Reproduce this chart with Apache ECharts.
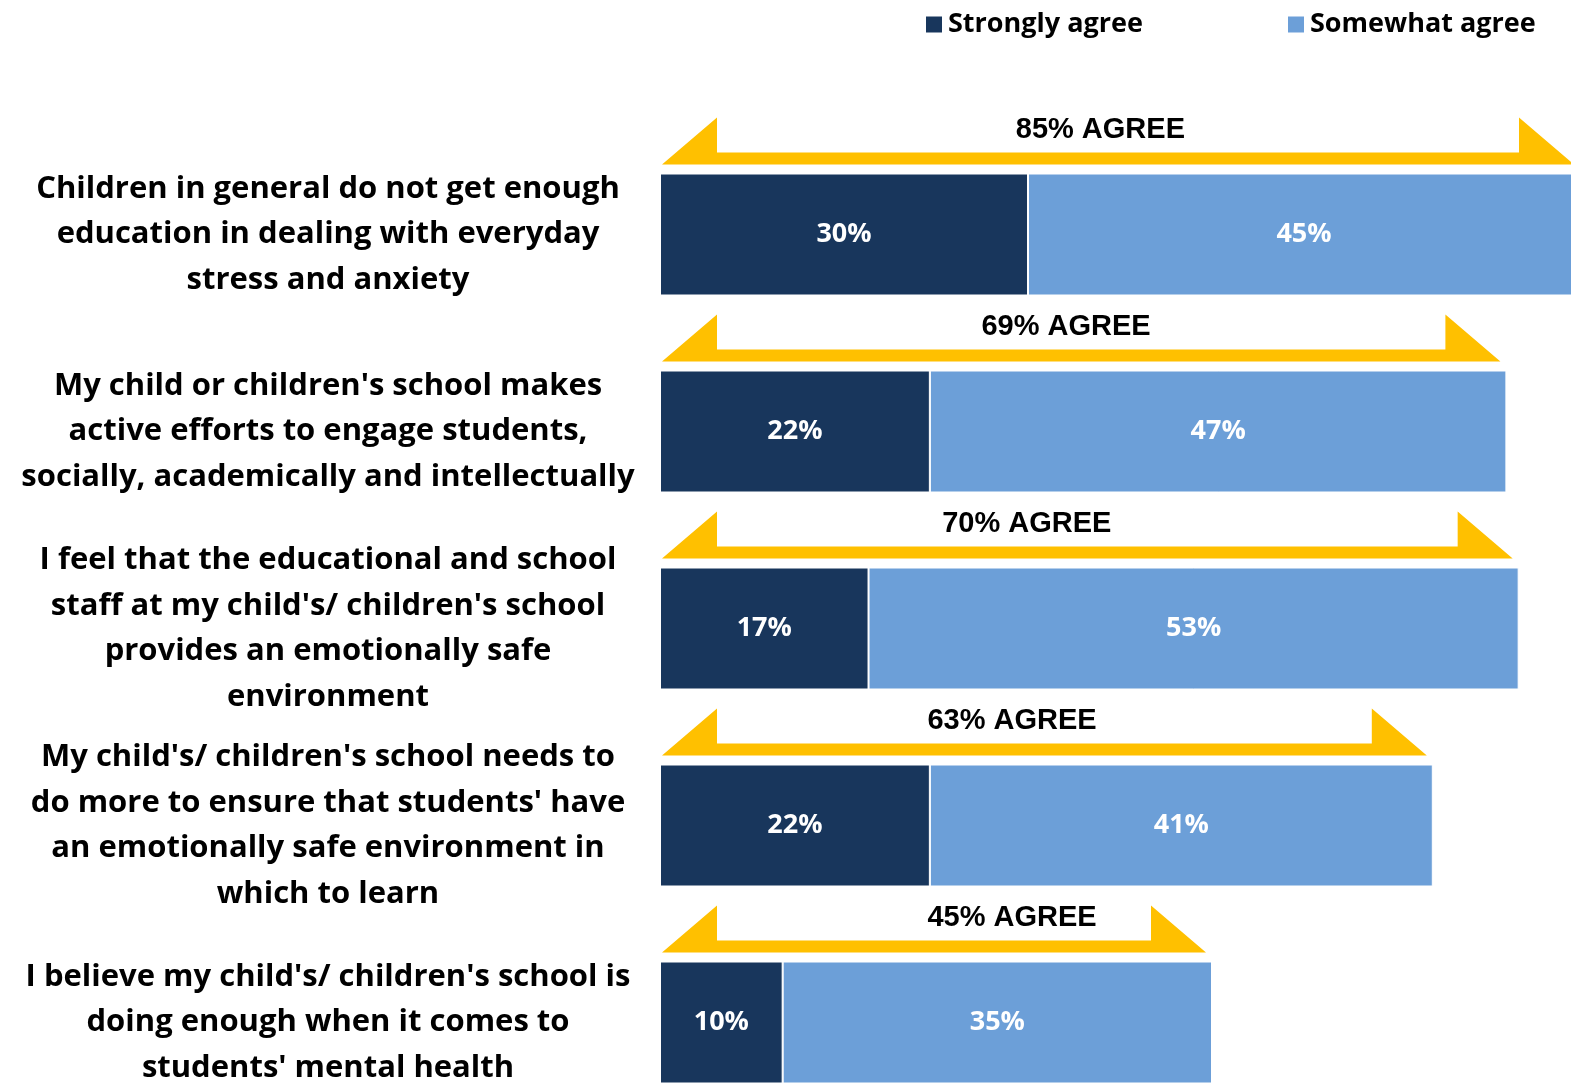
<!DOCTYPE html>
<html>
<head>
<meta charset="utf-8">
<script src="https://cdn.jsdelivr.net/npm/echarts@6/dist/echarts.min.js"></script>
<style>
  html, body { margin: 0; padding: 0; background: #ffffff; overflow: hidden; }
  /* the plot runs past the right and bottom edges of the page */
  #chart { width: 1640px; height: 1140px; }
</style>
</head>
<body>
<div id="chart"></div>
<script>
// Survey statements (top to bottom)
const categories = [
  "Children in general do not get enough\neducation in dealing with everyday\nstress and anxiety",
  "My child or children's school makes\nactive efforts to engage students,\nsocially, academically and intellectually",
  "I feel that the educational and school\nstaff at my child's/ children's school\nprovides an emotionally safe\nenvironment",
  "My child's/ children's school needs to\ndo more to ensure that students' have\nan emotionally safe environment in\nwhich to learn",
  "I believe my child's/ children's school is\ndoing enough when it comes to\nstudents' mental health"
];
const stronglyAgree = [30, 22, 17, 22, 10];
const somewhatAgree = [45, 47, 53, 41, 35];
const netAgree = [85, 69, 70, 63, 45];

// where each arrow caption is centred, in axis units
const captionAt = [35.9, 33.1, 29.9, 28.7, 28.7];

const DARK = '#18365C';
const LIGHT = '#6C9FD8';
const GOLD = '#FFC000';
const FONT = '"Open Sans", Lato, sans-serif';
const BAR_W = 122;

const chart = echarts.init(document.getElementById('chart'), null, { renderer: 'canvas' });

const arrowData = categories.map((c, i) => [
  stronglyAgree[i] + somewhatAgree[i], i, netAgree[i], captionAt[i]
]);

function renderArrow(params, api) {
  const total = api.value(0);
  const idx = api.value(1);
  const net = api.value(2);
  const capX = api.value(3);
  const start = api.coord([0, idx]);
  const end = api.coord([total, idx]);
  const yb = start[1] - 61 - 9;   // arrow baseline just above the bar
  const x0 = start[0] + 2;
  const x1 = end[0] - 6;
  const wing = 55, tall = 47, band = 12;
  const pts = [
    [x0, yb],
    [x0 + wing, yb - tall],
    [x0 + wing, yb - band],
    [x1 - wing, yb - band],
    [x1 - wing, yb - tall],
    [x1, yb]
  ];
  return {
    type: 'group',
    children: [
      { type: 'polygon', shape: { points: pts }, style: { fill: GOLD } },
      {
        type: 'text',
        x: api.coord([capX, idx])[0],
        y: start[1] - 105,
        style: {
          text: net + '% AGREE',
          fill: '#000',
          font: 'bold 29px "Liberation Sans", Arial, sans-serif',
          align: 'center',
          verticalAlign: 'middle'
        }
      }
    ]
  };
}

const legendText = { fontFamily: FONT, fontWeight: 'bold', fontSize: 27, color: '#000' };

chart.setOption({
  animation: false,
  backgroundColor: '#ffffff',
  legend: [
    {
      data: ['Strongly agree'], left: 919, top: 6, icon: 'rect',
      itemWidth: 18, itemHeight: 18, itemGap: 0, textStyle: legendText
    },
    {
      data: ['Somewhat agree'], left: 1281, top: 6, icon: 'rect',
      itemWidth: 18, itemHeight: 18, itemGap: 0, textStyle: legendText
    }
  ],
  grid: { left: 660, top: 136, width: 920, height: 985, containLabel: false },
  xAxis: {
    type: 'value', min: 0, max: 75, show: false
  },
  yAxis: {
    type: 'category',
    data: categories,
    inverse: true,
    axisLine: { show: false },
    axisTick: { show: false },
    splitLine: { show: false },
    axisLabel: {
      align: 'center',
      margin: 332,
      fontFamily: FONT,
      fontWeight: 'bold',
      fontSize: 31,
      lineHeight: 45.5,
      color: '#000'
    }
  },
  series: [
    {
      name: 'Strongly agree',
      type: 'bar',
      stack: 'agree',
      barWidth: BAR_W,
      data: stronglyAgree,
      itemStyle: { color: DARK, borderColor: '#ffffff', borderWidth: 1 },
      label: {
        show: true, position: 'inside', formatter: '{c}%',
        color: '#fff', fontFamily: FONT, fontWeight: 'bold', fontSize: 27
      }
    },
    {
      name: 'Somewhat agree',
      type: 'bar',
      stack: 'agree',
      barWidth: BAR_W,
      data: somewhatAgree,
      itemStyle: { color: LIGHT, borderColor: '#ffffff', borderWidth: 1 },
      label: {
        show: true, position: 'inside', formatter: '{c}%',
        color: '#fff', fontFamily: FONT, fontWeight: 'bold', fontSize: 27
      }
    },
    {
      name: 'arrows',
      type: 'custom',
      renderItem: renderArrow,
      data: arrowData,
      encode: { x: 0, y: 1 },
      clip: false,
      silent: true,
      z: 3
    }
  ]
});
</script>
</body>
</html>
